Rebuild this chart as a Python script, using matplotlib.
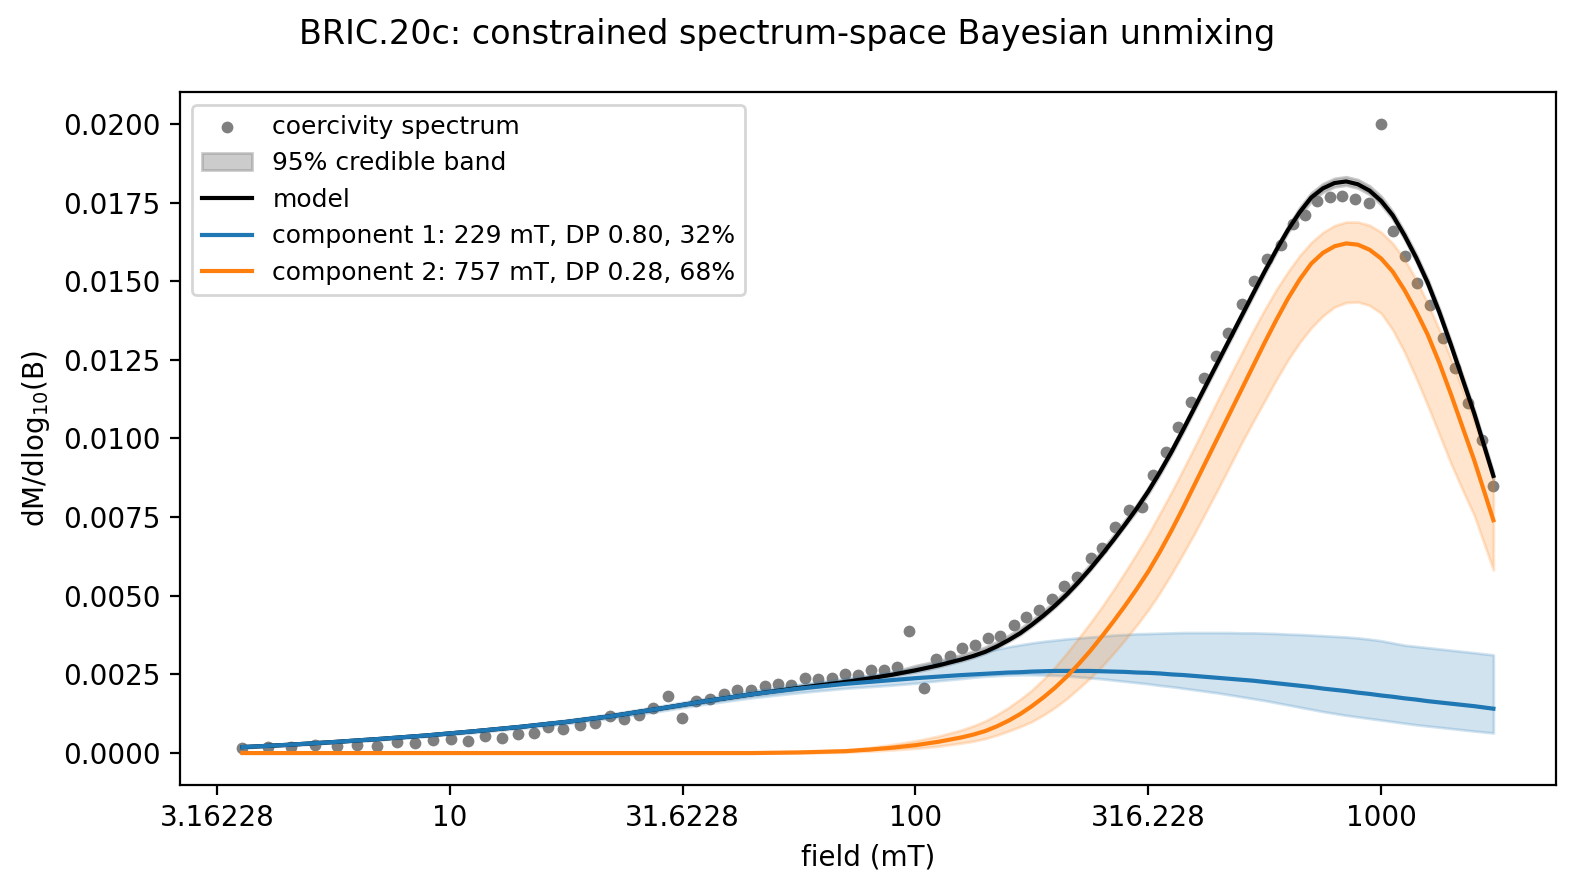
import numpy as np
import matplotlib
matplotlib.use('Agg')
import matplotlib.pyplot as plt
from matplotlib.ticker import FuncFormatter, MultipleLocator

# --- measured spectrum (log10 of field in mT, dM/dlog10B) ---
log_field = [0.555, 0.609, 0.660, 0.711, 0.759, 0.802, 0.845, 0.886, 0.926, 0.964,
             1.003, 1.039, 1.076, 1.112, 1.147, 1.180, 1.212, 1.243, 1.280, 1.312,
             1.344, 1.374, 1.406, 1.436, 1.468, 1.499, 1.528, 1.559, 1.589, 1.616,
             1.646, 1.676, 1.705, 1.733, 1.762, 1.790, 1.821, 1.848, 1.876, 1.905,
             1.932, 1.961, 1.986, 2.018, 2.045, 2.074, 2.100, 2.127, 2.155, 2.182,
             2.211, 2.238, 2.266, 2.293, 2.320, 2.348, 2.376, 2.401, 2.429, 2.458,
             2.486, 2.510, 2.539, 2.564, 2.592, 2.619, 2.645, 2.672, 2.701, 2.727,
             2.755, 2.785, 2.811, 2.837, 2.863, 2.891, 2.917, 2.944, 2.973, 3.000,
             3.026, 3.052, 3.078, 3.105, 3.132, 3.159, 3.187, 3.216, 3.241]
spectrum = [0.00016, 0.00019, 0.00019, 0.00026, 0.00023, 0.00026, 0.00023, 0.00035, 0.00032, 0.00040,
            0.00045, 0.00038, 0.00055, 0.00048, 0.00061, 0.00064, 0.00083, 0.00077, 0.00088, 0.00096,
            0.00117, 0.00108, 0.00122, 0.00143, 0.00180, 0.00111, 0.00164, 0.00172, 0.00189, 0.00201,
            0.00201, 0.00212, 0.00220, 0.00217, 0.00237, 0.00236, 0.00238, 0.00252, 0.00249, 0.00265,
            0.00265, 0.00274, 0.00389, 0.00207, 0.00299, 0.00309, 0.00334, 0.00344, 0.00367, 0.00373,
            0.00406, 0.00432, 0.00455, 0.00490, 0.00532, 0.00559, 0.00620, 0.00651, 0.00717, 0.00772,
            0.00781, 0.00885, 0.00958, 0.01037, 0.01115, 0.01193, 0.01263, 0.01334, 0.01427, 0.01500,
            0.01570, 0.01615, 0.01682, 0.01710, 0.01756, 0.01766, 0.01770, 0.01761, 0.01750, 0.02000,
            0.01661, 0.01580, 0.01495, 0.01424, 0.01318, 0.01223, 0.01112, 0.00995, 0.00849]

# --- fitted curves, read on a grid of log10 field ---
grid = [0.555, 0.65, 0.75, 0.85, 0.95, 1.05, 1.15, 1.25, 1.35, 1.45,
        1.55, 1.65, 1.75, 1.85, 1.9, 1.95, 2.0, 2.05, 2.1, 2.125,
        2.15, 2.175, 2.2, 2.225, 2.25, 2.275, 2.3, 2.325, 2.35, 2.375,
        2.4, 2.425, 2.45, 2.475, 2.5, 2.525, 2.55, 2.575, 2.6, 2.625,
        2.65, 2.675, 2.7, 2.725, 2.75, 2.775, 2.8, 2.825, 2.85, 2.875,
        2.9, 2.925, 2.95, 2.975, 3.0, 3.025, 3.05, 3.075, 3.1, 3.125,
        3.15, 3.175, 3.2, 3.241]

model = [0.00019, 0.00026, 0.00035, 0.00045, 0.00056, 0.00069, 0.00083, 0.00099, 0.00118, 0.00141,
         0.00165, 0.00187, 0.00207, 0.00226, 0.00237, 0.00249, 0.00263, 0.00279, 0.00298, 0.00309,
         0.00322, 0.00339, 0.00359, 0.00381, 0.00408, 0.00437, 0.00469, 0.00504, 0.00543, 0.00585,
         0.00630, 0.00677, 0.00726, 0.00777, 0.00832, 0.00893, 0.00958, 0.01028, 0.01100, 0.01172,
         0.01244, 0.01316, 0.01388, 0.01460, 0.01531, 0.01599, 0.01663, 0.01719, 0.01766, 0.01795,
         0.01812, 0.01817, 0.01808, 0.01788, 0.01755, 0.01709, 0.01646, 0.01575, 0.01495, 0.01401,
         0.01297, 0.01188, 0.01079, 0.00881]
model_lo = [0.00017, 0.00024, 0.00033, 0.00043, 0.00054, 0.00067, 0.00081, 0.00097, 0.00115, 0.00138,
            0.00162, 0.00184, 0.00203, 0.00222, 0.00233, 0.00245, 0.00258, 0.00274, 0.00293, 0.00304,
            0.00317, 0.00334, 0.00354, 0.00376, 0.00403, 0.00432, 0.00464, 0.00499, 0.00538, 0.00580,
            0.00625, 0.00672, 0.00721, 0.00769, 0.00824, 0.00885, 0.00950, 0.01020, 0.01092, 0.01164,
            0.01236, 0.01308, 0.01380, 0.01452, 0.01523, 0.01591, 0.01655, 0.01707, 0.01754, 0.01783,
            0.01800, 0.01805, 0.01796, 0.01776, 0.01743, 0.01697, 0.01634, 0.01563, 0.01483, 0.01389,
            0.01285, 0.01176, 0.01067, 0.00869]
model_hi = [0.00022, 0.00029, 0.00038, 0.00048, 0.00059, 0.00072, 0.00086, 0.00102, 0.00123, 0.00146,
            0.00170, 0.00192, 0.00215, 0.00234, 0.00245, 0.00257, 0.00278, 0.00294, 0.00313, 0.00324,
            0.00337, 0.00354, 0.00374, 0.00396, 0.00423, 0.00452, 0.00484, 0.00519, 0.00558, 0.00600,
            0.00645, 0.00692, 0.00741, 0.00789, 0.00844, 0.00905, 0.00970, 0.01040, 0.01112, 0.01184,
            0.01256, 0.01328, 0.01400, 0.01472, 0.01543, 0.01611, 0.01675, 0.01734, 0.01781, 0.01810,
            0.01827, 0.01832, 0.01823, 0.01803, 0.01770, 0.01721, 0.01658, 0.01587, 0.01507, 0.01413,
            0.01309, 0.01200, 0.01091, 0.00893]

comp1 = [0.00019, 0.00026, 0.00035, 0.00045, 0.00056, 0.00069, 0.00083, 0.00099, 0.00118, 0.00141,
         0.00165, 0.00187, 0.00205, 0.00220, 0.00226, 0.00232, 0.00238, 0.00243, 0.00248, 0.00250,
         0.00252, 0.00254, 0.00256, 0.00257, 0.00259, 0.00260, 0.00261, 0.00261, 0.00261, 0.00261,
         0.00260, 0.00259, 0.00258, 0.00256, 0.00255, 0.00253, 0.00250, 0.00248, 0.00245, 0.00242,
         0.00239, 0.00236, 0.00233, 0.00230, 0.00226, 0.00222, 0.00218, 0.00214, 0.00210, 0.00205,
         0.00201, 0.00197, 0.00192, 0.00188, 0.00183, 0.00179, 0.00174, 0.00170, 0.00165, 0.00161,
         0.00157, 0.00153, 0.00149, 0.00141]
comp1_lo = [0.00017, 0.00024, 0.00033, 0.00042, 0.00053, 0.00065, 0.00078, 0.00093, 0.00111, 0.00133,
            0.00156, 0.00176, 0.00192, 0.00206, 0.00211, 0.00216, 0.00222, 0.00230, 0.00237, 0.00241,
            0.00244, 0.00246, 0.00248, 0.00249, 0.00249, 0.00248, 0.00247, 0.00245, 0.00242, 0.00239,
            0.00236, 0.00232, 0.00228, 0.00224, 0.00220, 0.00215, 0.00211, 0.00206, 0.00201, 0.00196,
            0.00191, 0.00185, 0.00179, 0.00173, 0.00167, 0.00160, 0.00153, 0.00146, 0.00139, 0.00132,
            0.00126, 0.00120, 0.00115, 0.00110, 0.00105, 0.00100, 0.00095, 0.00090, 0.00086, 0.00082,
            0.00078, 0.00074, 0.00070, 0.00064]
comp1_hi = [0.00021, 0.00028, 0.00038, 0.00048, 0.00060, 0.00073, 0.00088, 0.00105, 0.00125, 0.00149,
            0.00174, 0.00198, 0.00218, 0.00237, 0.00247, 0.00257, 0.00270, 0.00287, 0.00304, 0.00313,
            0.00322, 0.00330, 0.00338, 0.00344, 0.00350, 0.00355, 0.00359, 0.00363, 0.00366, 0.00369,
            0.00372, 0.00375, 0.00377, 0.00379, 0.00380, 0.00381, 0.00382, 0.00383, 0.00383, 0.00383,
            0.00383, 0.00383, 0.00382, 0.00382, 0.00381, 0.00380, 0.00378, 0.00377, 0.00375, 0.00373,
            0.00371, 0.00369, 0.00366, 0.00362, 0.00357, 0.00350, 0.00343, 0.00339, 0.00335, 0.00331,
            0.00327, 0.00323, 0.00319, 0.00312]

comp2 = [0.0, 0.0, 0.0, 0.0, 0.0, 0.0, 0.0, 0.0, 0.0, 0.0,
         0.0, 0.0, 0.00002, 0.00006, 0.00011, 0.00017, 0.00025, 0.00036, 0.00050, 0.00059,
         0.00070, 0.00085, 0.00103, 0.00124, 0.00149, 0.00177, 0.00208, 0.00243, 0.00282, 0.00324,
         0.00370, 0.00418, 0.00468, 0.00521, 0.00577, 0.00640, 0.00708, 0.00780, 0.00855, 0.00930,
         0.01005, 0.01080, 0.01155, 0.01230, 0.01305, 0.01377, 0.01445, 0.01505, 0.01556, 0.01590,
         0.01611, 0.01620, 0.01616, 0.01600, 0.01572, 0.01530, 0.01472, 0.01405, 0.01330, 0.01240,
         0.01140, 0.01035, 0.00930, 0.00740]
comp2_lo = [0.0, 0.0, 0.0, 0.0, 0.0, 0.0, 0.0, 0.0, 0.0, 0.0,
            0.0, 0.0, 0.0, 0.00003, 0.00006, 0.00010, 0.00015, 0.00022, 0.00032, 0.00038,
            0.00046, 0.00057, 0.00070, 0.00084, 0.00100, 0.00121, 0.00145, 0.00173, 0.00205, 0.00238,
            0.00275, 0.00316, 0.00360, 0.00406, 0.00455, 0.00510, 0.00570, 0.00634, 0.00700, 0.00770,
            0.00840, 0.00912, 0.00985, 0.01053, 0.01120, 0.01187, 0.01250, 0.01305, 0.01352, 0.01390,
            0.01418, 0.01432, 0.01434, 0.01423, 0.01398, 0.01345, 0.01275, 0.01193, 0.01105, 0.01013,
            0.00920, 0.00836, 0.00755, 0.00582]
comp2_hi = [0.0, 0.0, 0.0, 0.0, 0.0, 0.0, 0.0, 0.0, 0.0, 0.0,
            0.0, 0.00001, 0.00004, 0.00010, 0.00017, 0.00027, 0.00039, 0.00054, 0.00074, 0.00087,
            0.00102, 0.00122, 0.00145, 0.00171, 0.00200, 0.00235, 0.00274, 0.00318, 0.00365, 0.00413,
            0.00464, 0.00518, 0.00575, 0.00634, 0.00695, 0.00762, 0.00830, 0.00902, 0.00975, 0.01050,
            0.01125, 0.01198, 0.01270, 0.01342, 0.01410, 0.01473, 0.01530, 0.01581, 0.01623, 0.01655,
            0.01677, 0.01688, 0.01688, 0.01678, 0.01656, 0.01620, 0.01570, 0.01505, 0.01430, 0.01345,
            0.01253, 0.01155, 0.01055, 0.00870]

labels = ['component 1: 229 mT, DP 0.80, 32%', 'component 2: 757 mT, DP 0.28, 68%']

# --- plot ---
fig, ax = plt.subplots(figsize=(7.875, 4.46), dpi=200)
fig.subplots_adjust(left=0.1142, right=0.9879, bottom=0.1205, top=0.8964)

ax.scatter(log_field, spectrum, s=18, color='k', alpha=0.5, linewidths=0,
           label='coercivity spectrum')
ax.fill_between(grid, model_lo, model_hi, color='gray', alpha=0.4,
                label='95% credible band')
ax.fill_between(grid, comp1_lo, comp1_hi, color='C0', alpha=0.2)
ax.fill_between(grid, comp2_lo, comp2_hi, color='C1', alpha=0.2)
ax.plot(grid, model, color='k', lw=1.5, label='model')
ax.plot(grid, comp1, color='C0', lw=1.5, label=labels[0])
ax.plot(grid, comp2, color='C1', lw=1.5, label=labels[1])

ax.xaxis.set_major_locator(MultipleLocator(0.5))
ax.xaxis.set_major_formatter(FuncFormatter(lambda v, p: f'{10**v:g}'))
ax.yaxis.set_major_locator(MultipleLocator(0.0025))
ax.yaxis.set_major_formatter(FuncFormatter(lambda v, p: f'{v:.4f}'))
ax.set_xlabel('field (mT)')
ax.set_ylabel(r'dM/dlog$_{10}$(B)')
ax.legend(loc='upper left', fontsize=9)
fig.suptitle('BRIC.20c: constrained spectrum-space Bayesian unmixing', fontsize=12)

fig.savefig('out.png', dpi=200)
